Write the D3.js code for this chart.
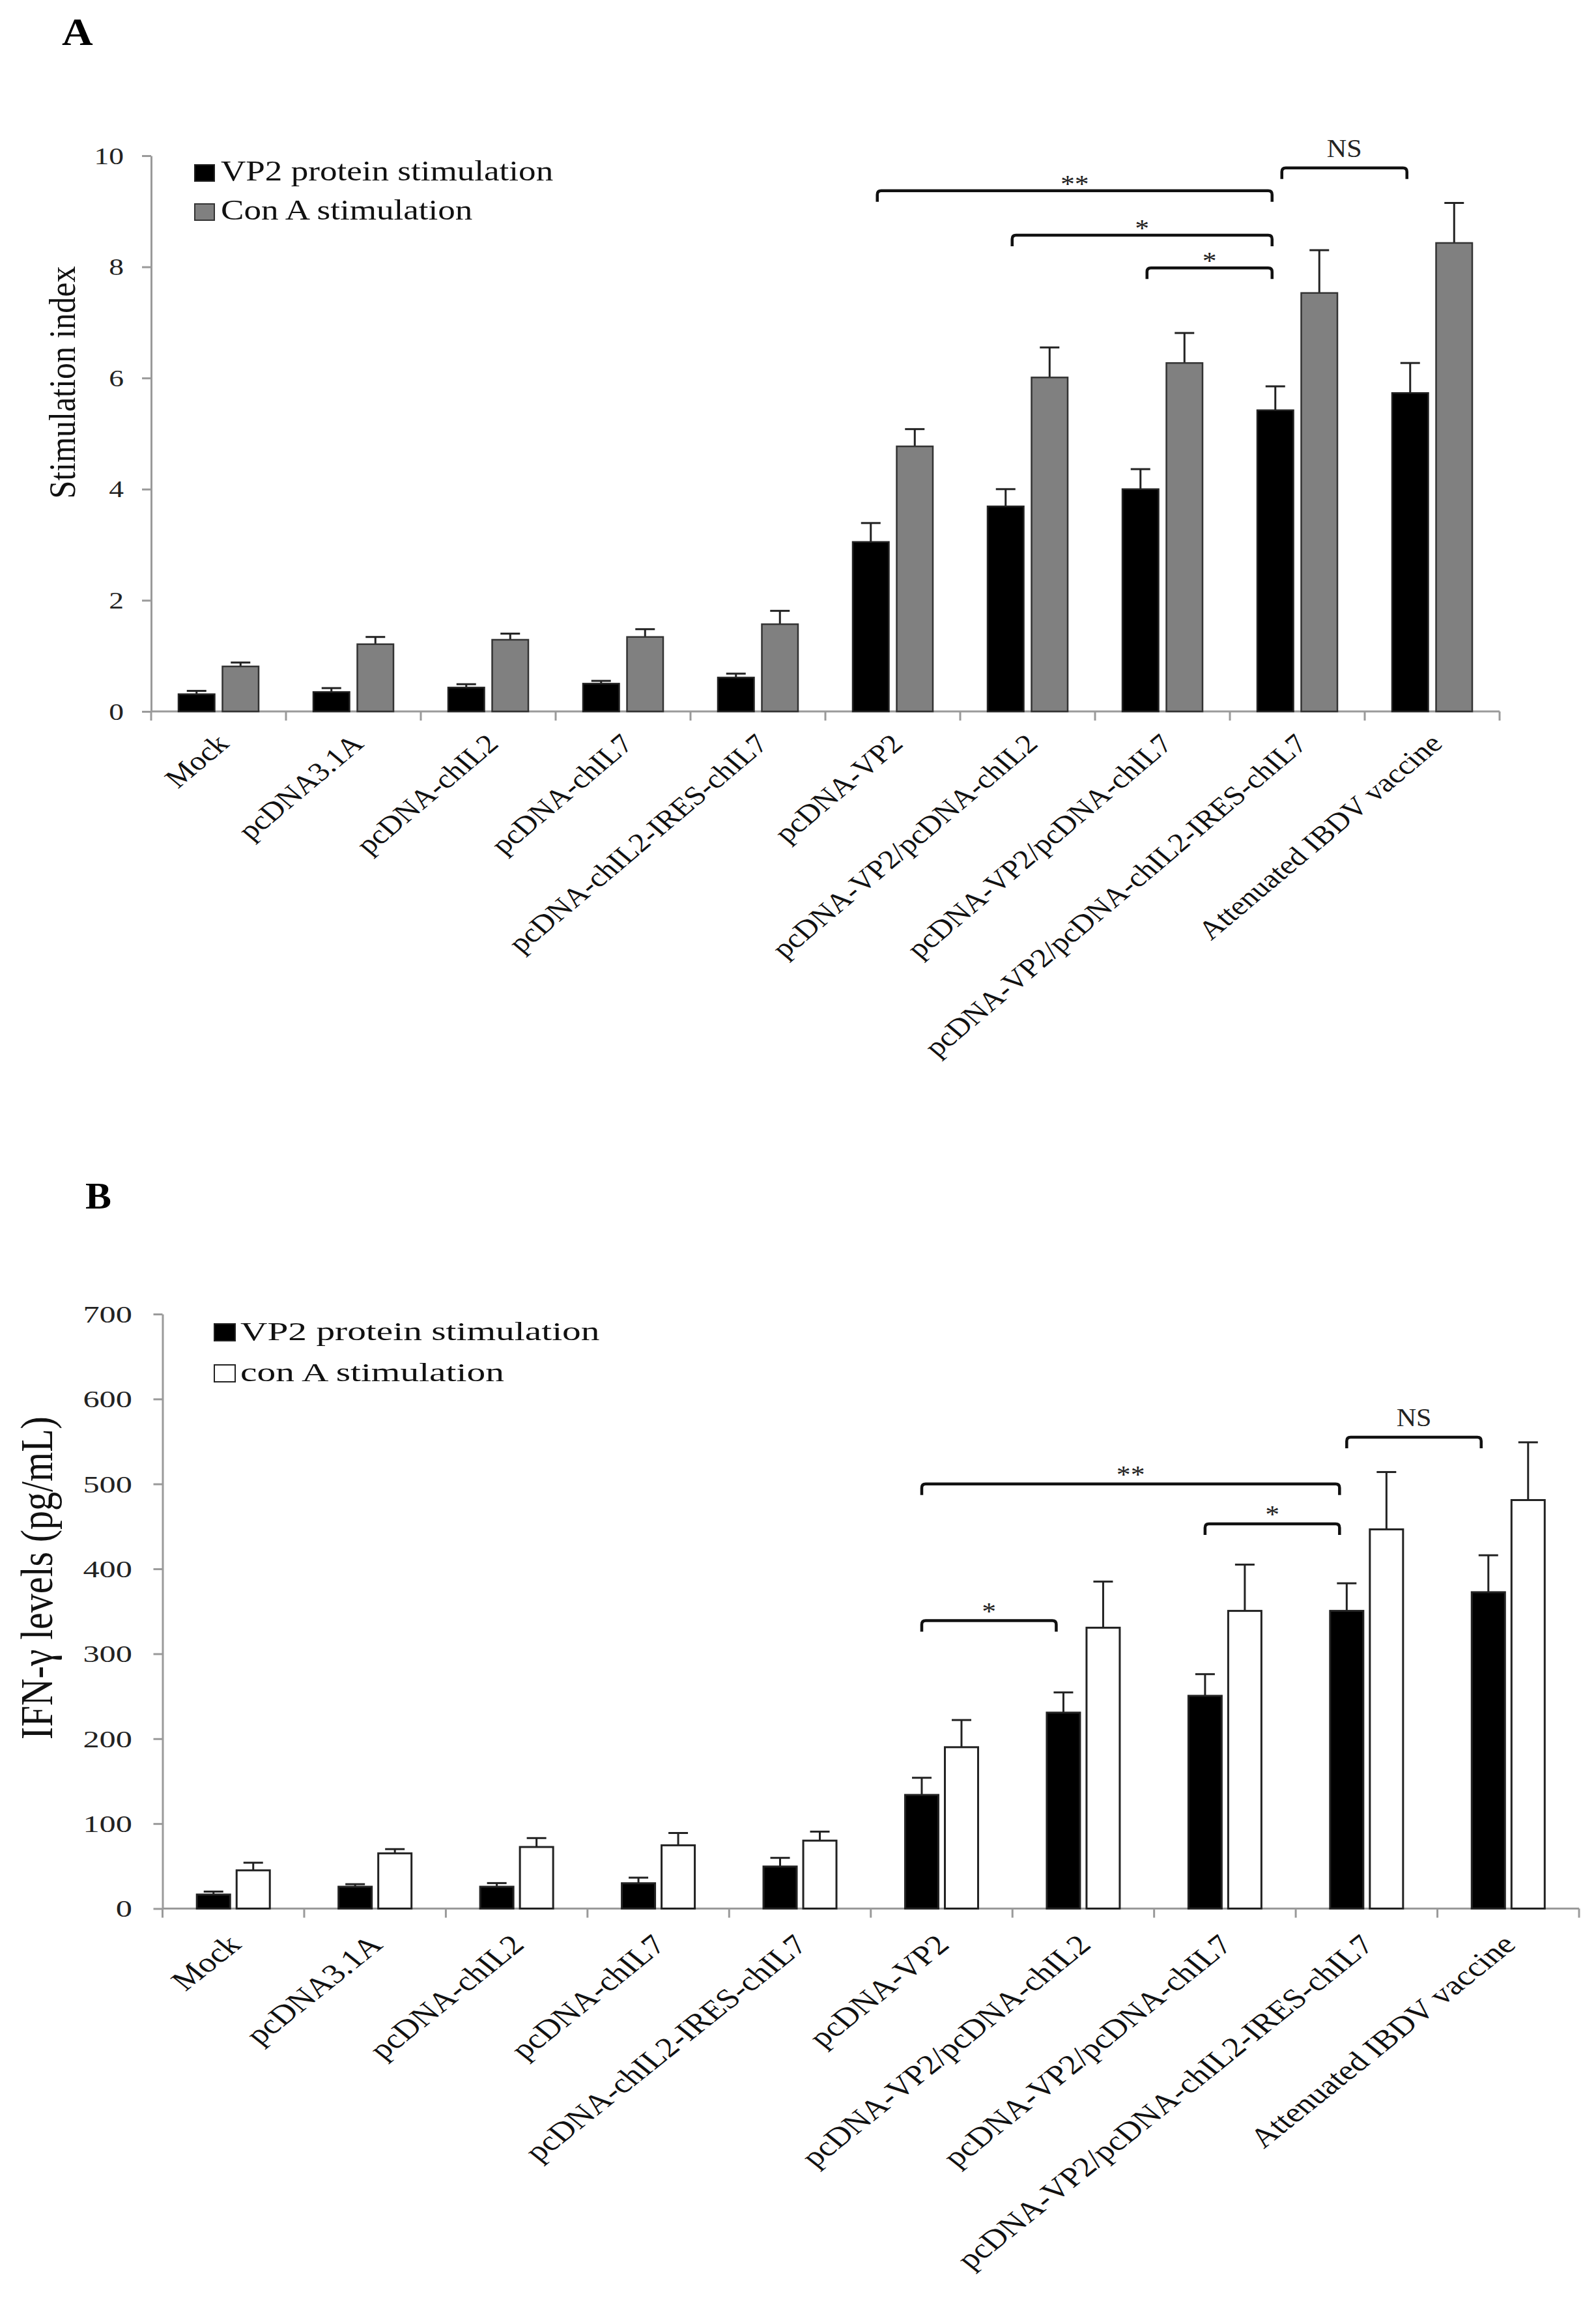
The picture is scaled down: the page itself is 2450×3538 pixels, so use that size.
<!DOCTYPE html>
<html><head><meta charset="utf-8">
<script src="https://cdn.jsdelivr.net/npm/d3@7"></script>
<style>body{margin:0;background:#fff} svg{display:block}</style>
</head><body><svg id="c" width="2450" height="3538"></svg>
<script>
// ---------- data ----------
const categories = ["Mock","pcDNA3.1A","pcDNA-chIL2","pcDNA-chIL7","pcDNA-chIL2-IRES-chIL7",
  "pcDNA-VP2","pcDNA-VP2/pcDNA-chIL2","pcDNA-VP2/pcDNA-chIL7","pcDNA-VP2/pcDNA-chIL2-IRES-chIL7","Attenuated IBDV vaccine"];

// Panel A: stimulation index
const siVP2     = [0.31,0.35,0.43,0.50,0.61,3.05,3.69,4.00,5.42,5.73];
const siVP2Err  = [0.06,0.07,0.06,0.05,0.07,0.34,0.31,0.36,0.43,0.54];
const siConA    = [0.81,1.21,1.29,1.34,1.57,4.77,6.01,6.27,7.53,8.43];
const siConAErr = [0.07,0.13,0.11,0.14,0.24,0.31,0.54,0.54,0.77,0.72];
const siTicks   = [0,2,4,6,8,10];
const siSeries  = ["VP2 protein stimulation","Con A stimulation"];
const siBrackets = [
  {from:5, to:8, level:9.37, label:"**"},
  {from:6, to:8, level:8.57, label:"*"},
  {from:7, to:8, level:7.98, label:"*"},
  {from:8, to:9, level:9.78, label:"NS"}
];

// Panel B: IFN-gamma
const ifnVP2     = [16.5,25.7,25.7,29.8,49.5,133.8,230.7,250.5,350.5,372.5];
const ifnVP2Err  = [3.5,3.0,4.3,6.6,10.2,20.2,23.8,25.5,32.5,43.5];
const ifnConA    = [45,65,72.5,74.5,80,190,330.7,350.5,446.5,481];
const ifnConAErr = [9,5,10.5,14.5,10.6,32,54.3,54.5,67.5,68];
const ifnTicks   = [0,100,200,300,400,500,600,700];
const ifnSeries  = ["VP2 protein stimulation","con A stimulation"];
const ifnBrackets = [
  {from:5, to:6, level:339, label:"*"},
  {from:5, to:8, level:500, label:"**"},
  {from:7, to:8, level:453, label:"*"},
  {from:8, to:9, level:555, label:"NS"}
];

// ---------- drawing ----------
const FONT = '"Liberation Serif","Times New Roman",serif';
const AXIS = "#9a9a9a";
const svg = d3.select("#c");
svg.append("rect").attr("width",2450).attr("height",3538).attr("fill","#fff");

function tf(x,y,sx,rot){ return `translate(${x},${y}) scale(${sx},1)` + (rot ? ` rotate(${rot})` : ""); }

function panel(p){
  const g = svg.append("g");
  const x = d3.scaleBand().domain(categories).range(p.xRange).paddingInner(0).paddingOuter(0);
  const y = d3.scaleLinear().domain(p.yDomain).range(p.yRange);
  const bw = x.bandwidth();
  const sub = d3.scaleBand().domain([0,1]).range([bw/2 - p.span/2, bw/2 + p.span/2]).paddingInner(p.subPad);
  const y0 = y(0);

  // y axis
  const yAxis = d3.axisLeft(y).tickValues(p.ticks).tickSize(p.tickLen).tickSizeOuter(0).tickFormat("");
  const ya = g.append("g").attr("transform",`translate(${p.xRange[0]},0)`).call(yAxis);
  ya.selectAll("path,line").attr("stroke",AXIS).attr("stroke-width",3);
  g.selectAll(".ytl").data(p.ticks).join("text")
    .attr("transform", d => tf(p.tickLabelX, y(d), p.tickSx))
    .attr("dy","0.36em").attr("text-anchor","end")
    .attr("font-family",FONT).attr("font-size",p.tickFont).attr("fill","#222")
    .text(d => d);

  // x axis
  g.append("line").attr("x1",p.xRange[0]).attr("x2",p.xRange[1]).attr("y1",y0).attr("y2",y0)
    .attr("stroke",AXIS).attr("stroke-width",3);
  const bounds = categories.map(c => x(c)).concat([p.xRange[1]]);
  g.selectAll(".xt").data(bounds).join("line")
    .attr("x1",d=>d).attr("x2",d=>d).attr("y1",y0).attr("y2",y0+p.tickLen)
    .attr("stroke",AXIS).attr("stroke-width",3);
  g.selectAll(".xl").data(categories).join("text")
    .attr("transform", c => tf(x(c)+bw/2+p.lblDx, y0+p.lblDy, p.lblSx, -45))
    .attr("text-anchor","end").attr("font-family",FONT).attr("font-size",p.lblFont).attr("fill","#111")
    .text(c => c);

  // bars + error bars
  p.series.forEach((vals, s) => {
    const errs = p.errors[s];
    const rows = categories.map((c,i) => ({c, v: vals[i], e: errs[i]}));
    const cx = d => x(d.c) + sub(s) + sub.bandwidth()/2;
    g.selectAll(".eb"+s).data(rows).join("line")
      .attr("x1",cx).attr("x2",cx).attr("y1",d=>y(d.v)).attr("y2",d=>y(d.v+d.e))
      .attr("stroke","#222").attr("stroke-width",3);
    g.selectAll(".ec"+s).data(rows).join("line")
      .attr("x1",d=>cx(d)-p.capW/2).attr("x2",d=>cx(d)+p.capW/2).attr("y1",d=>y(d.v+d.e)).attr("y2",d=>y(d.v+d.e))
      .attr("stroke","#222").attr("stroke-width",3);
    g.selectAll(".bar"+s).data(rows).join("rect")
      .attr("x",d=>x(d.c)+sub(s)).attr("y",d=>y(d.v))
      .attr("width",sub.bandwidth()).attr("height",d=>y0-y(d.v))
      .attr("fill",p.fills[s]).attr("stroke",p.strokes[s]).attr("stroke-width",p.barStroke);
  });

  // significance brackets
  const bc = i => x(categories[i]) + sub(0) + sub.bandwidth()/2;
  p.brackets.forEach(b => {
    const xl = bc(b.from) + p.brL, xr = bc(b.to) + p.brR, yl = y(b.level), r = 6, dr = p.drop;
    g.append("path")
      .attr("d",`M${xl},${yl+dr} L${xl},${yl+r} Q${xl},${yl} ${xl+r},${yl} L${xr-r},${yl} Q${xr},${yl} ${xr},${yl+r} L${xr},${yl+dr}`)
      .attr("fill","none").attr("stroke","#111").attr("stroke-width",4.5);
    const isNS = b.label === "NS";
    g.append("text")
      .attr("transform", tf((xl+xr)/2, yl + (isNS ? -17 : p.starDy), isNS ? 1.08 : 1.15))
      .attr("text-anchor","middle").attr("font-family",FONT)
      .attr("font-size", isNS ? 39 : 38).attr("fill","#222")
      .text(b.label);
  });

  // legend
  p.legendNames.forEach((name, s) => {
    const ly = p.legendY[s];
    g.append("rect").attr("x",p.legendX).attr("y",ly - p.swH + 1).attr("width",p.swW).attr("height",p.swH)
      .attr("fill",p.fills[s]).attr("stroke",p.strokes[s]).attr("stroke-width",2);
    g.append("text").attr("transform", tf(p.legendTextX, ly, p.legendSx))
      .attr("font-family",FONT).attr("font-size",p.legendFont).attr("fill","#111").text(name);
  });

  // y title
  g.append("text").attr("transform", tf(p.titleX, p.titleY, p.titleSx, -90))
    .attr("text-anchor","middle").attr("font-family",FONT).attr("font-size",p.titleFont).attr("fill","#111")
    .text(p.title);

  // panel letter
  g.append("text").attr("transform", tf(p.letterX, p.letterY, p.letterSx))
    .attr("font-family",FONT).attr("font-weight","bold").attr("font-size",p.letterFont).attr("fill","#000")
    .text(p.letter);
}

panel({
  xRange:[232,2302], yDomain:[0,10], yRange:[1092,239], ticks:siTicks, tickLen:14,
  tickLabelX:190, tickFont:35, tickSx:1.3,
  span:123, subPad:0.178, capW:30,
  series:[siVP2, siConA], errors:[siVP2Err, siConAErr],
  fills:["#000","#808080"], strokes:["#222","#333"], barStroke:2.5,
  lblDx:18, lblDy:52, lblSx:1.19, lblFont:41,
  brackets:siBrackets, brL:10, brR:-5, drop:17, starDy:2,
  legendNames:siSeries, legendX:299, legendY:[277,337], swW:30, swH:25,
  legendTextX:339, legendSx:1.18, legendFont:45,
  title:"Stimulation index", titleX:115, titleY:587, titleSx:1.15, titleFont:50,
  letter:"A", letterX:95, letterY:69, letterSx:1.1, letterFont:60
});

panel({
  xRange:[249.5,2424], yDomain:[0,700], yRange:[2929.5,2017], ticks:ifnTicks, tickLen:14,
  tickLabelX:203, tickFont:36, tickSx:1.4,
  span:112, subPad:0.164, capW:30,
  series:[ifnVP2, ifnConA], errors:[ifnVP2Err, ifnConAErr],
  fills:["#000","#fff"], strokes:["#222","#222"], barStroke:3,
  lblDx:14, lblDy:58, lblSx:1.25, lblFont:42.5,
  brackets:ifnBrackets, brL:0, brR:-11, drop:17, starDy:-2,
  legendNames:ifnSeries, legendX:329, legendY:[2057,2120], swW:32, swH:26,
  legendTextX:369, legendSx:1.4, legendFont:41,
  title:"IFN-γ levels (pg/mL)", titleX:80, titleY:2422, titleSx:1.2, titleFont:58,
  letter:"B", letterX:131, letterY:1855, letterSx:1.05, letterFont:57
});
</script>
</body></html>
